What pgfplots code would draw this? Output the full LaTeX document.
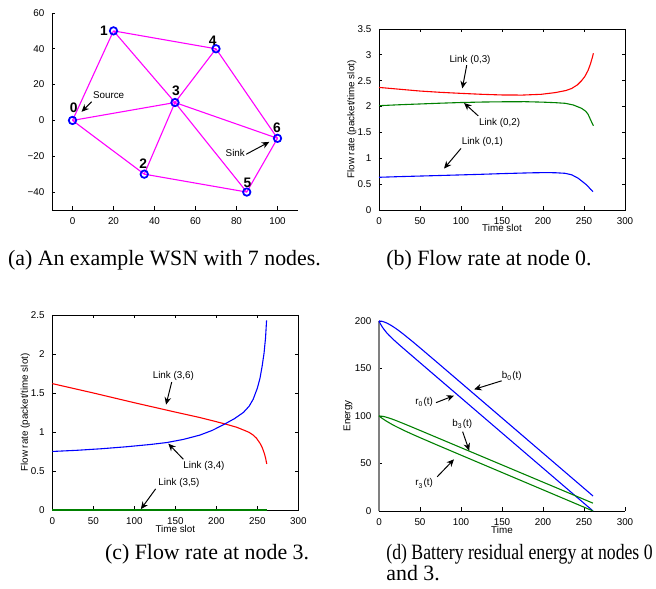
\documentclass[border=0pt]{standalone}
\usepackage{fontspec}
\setmainfont{Liberation Serif}
\newfontfamily\hv{Liberation Sans}
\usepackage{pgfplots}
\pgfplotsset{compat=1.18}
\usetikzlibrary{arrows.meta}
\definecolor{mgreen}{rgb}{0,0.5,0}
\definecolor{mmag}{rgb}{1,0,1}
\definecolor{mblue}{rgb}{0,0,1}
\definecolor{mred}{rgb}{1,0,0}
\newcommand{\tf}{\hv\fontsize{4.5}{5.4}\selectfont}
\tikzset{ann/.style={-{Stealth[length=3.4pt,width=3pt]},line width=0.45pt}}
\pgfplotsset{mat/.style={scale only axis,width=112.5pt,tick align=inside,major tick length=1.6pt,
  tick label style={font=\tf},/pgf/number format/assume math mode=true,
  axis line style={line width=0.4pt,-},every tick/.style={black,line width=0.35pt},
  every axis plot/.append style={line width=0.5pt},clip=false,
  every axis x label/.style={at={(axis description cs:0.5,-0.1)},anchor=center,font=\tf},
  every axis y label/.style={at={(axis description cs:-0.11,0.5)},rotate=90,anchor=center,font=\tf}}}
\begin{document}
\begin{tikzpicture}
\path[use as bounding box] (0,0) rectangle (300pt,269.35pt);

% (a) network
\begin{axis}[mat,at={(23.78pt,173.32pt)},anchor=south west,height=90.09pt,
  xmin=-10,xmax=110,ymin=-50,ymax=60,xtick={0,20,...,100},ytick={-40,-20,...,60},
  yticklabels={−40,−20,0,20,40,60},axis x line*=bottom,axis y line*=left]
\addplot[mmag] coordinates {(0,0) (20,50)};
\addplot[mmag] coordinates {(0,0) (50,10)};
\addplot[mmag] coordinates {(0,0) (35,-30)};
\addplot[mmag] coordinates {(20,50) (50,10)};
\addplot[mmag] coordinates {(20,50) (70,40)};
\addplot[mmag] coordinates {(70,40) (50,10)};
\addplot[mmag] coordinates {(70,40) (100,-10)};
\addplot[mmag] coordinates {(50,10) (100,-10)};
\addplot[mmag] coordinates {(50,10) (35,-30)};
\addplot[mmag] coordinates {(50,10) (85,-40)};
\addplot[mmag] coordinates {(35,-30) (85,-40)};
\addplot[mmag] coordinates {(85,-40) (100,-10)};
\addplot[only marks,mblue,mark=o,mark size=1.7pt,line width=0.8pt] coordinates {(0,0) (20,50) (35,-30) (50,10) (70,40) (85,-40) (100,-10)};
\begin{scope}[font=\hv\bfseries\fontsize{6.3}{7}\selectfont]
\node at (axis cs:0.6,7.3) {0};
\node at (axis cs:15.3,49.8) {1};
\node at (axis cs:34.5,-24) {2};
\node at (axis cs:50.5,16.6) {3};
\node at (axis cs:68.4,44.4) {4};
\node at (axis cs:85.3,-34.9) {5};
\node at (axis cs:99.7,-3.9) {6};
\end{scope}
\node[font=\tf,anchor=west,inner sep=0pt] at (axis cs:9.8,14.3) {Source};
\draw[ann] (axis cs:9.3,10.4) -- (axis cs:4.4,4.8);
\node[font=\tf,anchor=east,inner sep=0pt] at (axis cs:84.3,-18.1) {Sink};
\draw[ann] (axis cs:84.7,-18.9) -- (axis cs:96,-12);
\end{axis}

% (b) flow rate node 0
\begin{axis}[mat,at={(173.32pt,173.32pt)},anchor=south west,height=82.77pt,
  xmin=0,xmax=300,ymin=0,ymax=3.5,xtick={0,50,...,300},ytick={0,0.5,...,3.5},
  xlabel={Time slot},ylabel={Flow rate (packet/time slot)}]
\addplot[mred] coordinates {(0,2.37) (25,2.335) (50,2.3) (75,2.275) (100,2.255) (125,2.237) (150,2.224) (175,2.222) (198,2.237) (215,2.27) (228,2.31) (235,2.35) (242,2.42) (247,2.5) (251,2.58) (255,2.7) (258,2.83) (260,2.94) (261.5,3.03)};
\addplot[mgreen] coordinates {(0,2.017) (25,2.035) (50,2.05) (75,2.065) (100,2.078) (125,2.087) (150,2.092) (178,2.094) (200,2.085) (215,2.075) (227,2.063) (237,2.03) (247,1.966) (252,1.91) (255,1.85) (257.3,1.77) (259,1.71) (260.5,1.66) (261.5,1.63)};
\addplot[mblue] coordinates {(0,0.632) (25,0.645) (50,0.656) (75,0.667) (97,0.677) (125,0.69) (150,0.703) (175,0.714) (190,0.72) (205,0.722) (215,0.72) (227,0.709) (235,0.68) (243,0.613) (248,0.55) (252,0.5) (255.3,0.45) (258,0.4) (261,0.354)};
\node[font=\tf] at (axis cs:111,2.9) {Link (0,3)};
\draw[ann] (axis cs:107,2.8) -- (axis cs:101.6,2.35);
\node[font=\tf] at (axis cs:147,1.69) {Link (0,2)};
\draw[ann] (axis cs:121,1.82) -- (axis cs:103.7,2.07);
\node[font=\tf] at (axis cs:126,1.32) {Link (0,1)};
\draw[ann] (axis cs:100,1.19) -- (axis cs:79.3,0.8);
\end{axis}

% (c) flow rate node 3
\begin{axis}[mat,at={(23.92pt,36.13pt)},anchor=south west,height=89.17pt,
  xmin=0,xmax=300,ymin=0,ymax=2.5,xtick={0,50,...,300},ytick={0,0.5,...,2.5},
  xlabel={Time slot},ylabel={Flow rate (packet/time slot)}]
\addplot[mred] coordinates {(0,1.62) (50,1.5) (100,1.375) (150,1.255) (180,1.185) (210,1.105) (225,1.06) (233,1.026) (240,0.995) (245,0.96) (249,0.92) (253.3,0.855) (256,0.8) (258.5,0.727) (260,0.67) (261.5,0.59)};
\addplot[mblue] coordinates {(0,0.75) (30,0.765) (60,0.785) (90,0.81) (120,0.84) (140,0.865) (160,0.905) (180,0.96) (195,1.02) (210,1.1) (222,1.17) (233,1.25) (240,1.33) (245,1.42) (250,1.56) (253.3,1.69) (256,1.85) (258.2,2.01) (260,2.2) (261.3,2.43)};
\addplot[mgreen,line width=0.8pt] coordinates {(0,0) (261.5,0)};
\node[font=\tf] at (axis cs:147.6,1.72) {Link (3,6)};
\draw[ann] (axis cs:145.6,1.64) -- (axis cs:138.7,1.35);
\node[font=\tf] at (axis cs:185,0.57) {Link (3,4)};
\draw[ann] (axis cs:159.8,0.65) -- (axis cs:141.5,0.85);
\node[font=\tf] at (axis cs:154.5,0.35) {Link (3,5)};
\draw[ann] (axis cs:126,0.27) -- (axis cs:108,0.01);
\end{axis}

% (d) battery energy
\begin{axis}[mat,at={(173.32pt,35.67pt)},anchor=south west,height=86.89pt,
  xmin=0,xmax=300,ymin=0,ymax=200,xtick={0,50,...,300},ytick={0,50,...,200},
  axis x line*=bottom,axis y line*=left,y axis line style={gray,line width=1pt},
  xlabel={Time},ylabel={Energy},
  every axis y label/.style={at={(axis description cs:-0.126,0.5)},rotate=90,anchor=center,font=\tf}]
\addplot[mblue] coordinates {(0,200) (3,199.75) (6,199.06) (10,197.63) (15,195.25) (20,192.42) (25,189.29) (30,185.97) (40,178.98) (50,171.76) (70,157.07) (100,134.9) (150,97.9) (200,60.9) (250,23.9) (261,15.76)};
\addplot[mblue] coordinates {(0,200) (1,198.2) (2,196.56) (4,193.68) (6,191.2) (9,187.98) (12,185.15) (16,181.74) (20,178.55) (25,174.7) (30,170.95) (60,148.7) (100,119.1) (150,82.1) (200,45.1) (250,8.1) (261,0)};
\addplot[mgreen] coordinates {(0,100) (3,99.82) (6,99.36) (10,98.45) (15,97.03) (20,95.43) (30,91.98) (40,88.42) (60,81.16) (100,66.64) (150,48.49) (200,30.34) (250,12.19) (261,8.2)};
\addplot[mgreen] coordinates {(0,100) (3,98.05) (6,96.25) (10,94.05) (15,91.54) (20,89.22) (30,84.96) (40,81) (50,77.19) (70,69.76) (100,58.77) (150,40.52) (200,22.27) (250,4.02) (261,0)};
\node[font=\tf] at (axis cs:162,142) {b\textsubscript{0}(t)};
\draw[ann] (axis cs:149.6,137) -- (axis cs:116,128);
\node[font=\tf] at (axis cs:55,115) {r\textsubscript{0}(t)};
\draw[ann] (axis cs:69.5,114) -- (axis cs:91.5,121.4);
\node[font=\tf] at (axis cs:101.6,91.6) {b\textsubscript{3}(t)};
\draw[ann] (axis cs:102,83.5) -- (axis cs:110,63.5);
\node[font=\tf] at (axis cs:55,29) {r\textsubscript{3}(t)};
\draw[ann] (axis cs:71,36) -- (axis cs:91.5,54.4);
\end{axis}

% captions
\node[anchor=base,inner sep=0pt,font=\fontsize{10}{12}\selectfont] at (75.2pt,147.7pt) {(a) An example WSN with 7 nodes.};
\node[anchor=base,inner sep=0pt,font=\fontsize{10}{12}\selectfont] at (223.6pt,147.7pt) {(b) Flow rate at node 0.};
\node[anchor=base,inner sep=0pt,font=\fontsize{10}{12}\selectfont] at (94.7pt,13.26pt) {(c) Flow rate at node 3.};
\node[anchor=base west,inner sep=0pt,font=\fontsize{10}{12}\selectfont] at (176.5pt,13.26pt) {\scalebox{0.81}[1]{(d) Battery residual energy at nodes 0}};
\node[anchor=base west,inner sep=0pt,font=\fontsize{10}{12}\selectfont] at (176.5pt,4.1pt) {and 3.};
\end{tikzpicture}
\end{document}
